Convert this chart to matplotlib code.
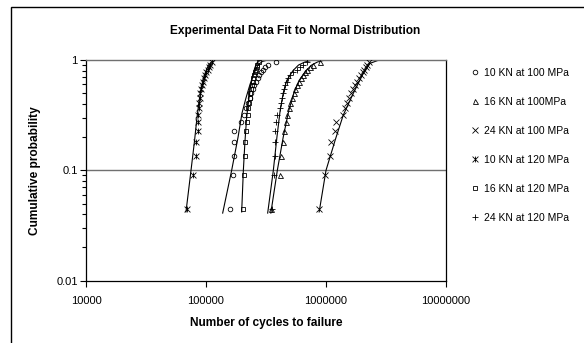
import numpy as np
import matplotlib
matplotlib.use('Agg')
import matplotlib.pyplot as plt
from matplotlib.path import Path
from matplotlib.patches import Rectangle

plt.rcParams['font.family'] = ['Liberation Sans', 'DejaVu Sans']

# Median-rank probability levels (i/22, i=1..21), shared by all series
prob = [0.045, 0.091, 0.136, 0.182, 0.227, 0.273, 0.318, 0.364, 0.409, 0.455, 0.5,
        0.545, 0.591, 0.636, 0.682, 0.727, 0.773, 0.818, 0.864, 0.909, 0.955]

labels = ['10 KN at 100 MPa', '16 KN at 100MPa', '24 KN at 100 MPa',
          '10 KN at 120 MPa', '16 KN at 120 MPa', '24 KN at 120 MPa']

# Cycles to failure for each series
cyc_10_100 = [157800, 169400, 170800, 170800, 172100, 196800, 207500, 215000, 224000, 232700, 239000,
              246500, 253600, 261000, 268800, 276500, 287300, 298500, 310200, 328500, 380000]
cyc_16_100 = [345000, 413600, 424000, 435000, 449000, 464000, 476000, 491700, 504000, 521000, 538000,
              552000, 573000, 596000, 619000, 643000, 668000, 698000, 736000, 780000, 891000]
cyc_24_100 = [877000, 983000, 1071000, 1111000, 1193000, 1219000, 1375000, 1440000, 1497000, 1556000, 1616000,
              1679000, 1745000, 1813000, 1884000, 1958000, 2015000, 2073000, 2134000, 2196000, 2282000]
cyc_10_120 = [69800, 77500, 82000, 83000, 85300, 85300, 86000, 86800, 87800, 88800, 89800,
              90800, 92300, 94000, 95800, 98000, 100500, 103000, 106000, 109000, 112000]
cyc_16_120 = [201800, 206500, 209800, 212600, 216600, 220400, 223000, 226000, 229100, 231700, 234800,
              238000, 241700, 244900, 248700, 252100, 256200, 260200, 263800, 268000, 274000]
cyc_24_120 = [352800, 368600, 373600, 373600, 374000, 381000, 388400, 413600, 421700, 427300, 435500,
              446700, 455000, 470500, 485000, 501000, 531000, 570000, 607000, 647000, 690000]

# Fitted normal curves
fit_10_100_x = [137700, 163600, 185000, 199500, 215000, 232600, 250000, 271000, 295000, 316000, 380000]
fit_10_100_y = [0.041, 0.1, 0.2, 0.33, 0.45, 0.6, 0.75, 0.9, 0.97, 0.99, 1.0]
fit_16_100_x = [347000, 393000, 440000, 490000, 540000, 595000, 680000, 760000, 850000, 950000, 1100000]
fit_16_100_y = [0.041, 0.1, 0.2, 0.35, 0.5, 0.65, 0.8, 0.9, 0.96, 0.99, 1.0]
fit_24_100_x = [877000, 1000000, 1196000, 1393000, 1690000, 2046000, 2326000, 2700000, 4140000]
fit_24_100_y = [0.042, 0.1, 0.19, 0.317, 0.5, 0.757, 0.933, 0.99, 1.0]
fit_10_120_x = [68100, 75000, 80000, 84100, 87500, 90900, 95000, 100000, 105000, 110000, 119000, 150000]
fit_10_120_y = [0.042, 0.1, 0.18, 0.3, 0.42, 0.55, 0.68, 0.8, 0.9, 0.95, 0.99, 1.0]
fit_16_120_x = [198300, 204800, 211000, 218000, 226000, 235000, 245000, 255000, 266000, 280000, 320000]
fit_16_120_y = [0.042, 0.1, 0.18, 0.3, 0.42, 0.57, 0.72, 0.85, 0.94, 0.985, 1.0]
fit_24_120_x = [326600, 364000, 390000, 415000, 440000, 470000, 530000, 590000, 668000, 750000, 850000]
fit_24_120_y = [0.041, 0.1, 0.2, 0.35, 0.5, 0.65, 0.8, 0.9, 0.96, 0.99, 1.0]

# asterisk marker like Excel's star: x with a vertical bar
star = Path([(-1, -1), (1, 1), (-1, 1), (1, -1), (0, -1), (0, 1)],
            [Path.MOVETO, Path.LINETO] * 3)

series = [cyc_10_100, cyc_16_100, cyc_24_100, cyc_10_120, cyc_16_120, cyc_24_120]
markers = ['o', '^', 'x', star, 's', '+']
sizes = [3.3, 3.6, 4.0, 4.2, 3.3, 4.8]
fits = [(fit_10_100_x, fit_10_100_y), (fit_16_100_x, fit_16_100_y), (fit_24_100_x, fit_24_100_y),
        (fit_10_120_x, fit_10_120_y), (fit_16_120_x, fit_16_120_y), (fit_24_120_x, fit_24_120_y)]

fig = plt.figure(figsize=(5.84, 3.43), dpi=100)
ax = fig.add_axes([86/584, 1 - 280.7/343, 360/584, 220.7/343])

# outer chart frame
fig.patches.append(Rectangle((11/584, -0.1), 1.2, 1 - 7/343 + 0.1, transform=fig.transFigure,
                             fill=False, edgecolor='black', linewidth=1.0))

ax.axhline(0.1, color='#707070', linewidth=1.0, zorder=1)

for (fx, fy) in fits:
    ax.plot(fx, fy, color='black', linewidth=0.8, zorder=2)

for cyc, lab, m, s in zip(series, labels, markers, sizes):
    ax.plot(cyc, prob, linestyle='none', marker=m, markersize=s, markerfacecolor='none',
            markeredgecolor='black', markeredgewidth=0.6, color='black', label=lab, zorder=3)

ax.set_xscale('log')
ax.set_yscale('log')
ax.set_xlim(1e4, 1e7)
ax.set_ylim(0.01, 1)
ax.set_xticks([1e4, 1e5, 1e6, 1e7])
ax.set_xticklabels(['10000', '100000', '1000000', '10000000'])
ax.xaxis.set_minor_locator(matplotlib.ticker.NullLocator())
ax.set_yticks([0.01, 0.1, 1])
ax.set_yticklabels(['0.01', '0.1', '1'])
ax.tick_params(axis='both', which='major', direction='out', length=4, width=0.8, labelsize=8, pad=2)
ax.tick_params(axis='y', which='minor', direction='out', length=3, width=0.8)
ax.tick_params(axis='x', pad=7)
ax.yaxis.set_minor_formatter(matplotlib.ticker.NullFormatter())

ax.spines['top'].set_color('#707070')
ax.spines['top'].set_linewidth(1.0)
for sp in ['left', 'bottom', 'right']:
    ax.spines[sp].set_color('black')
    ax.spines[sp].set_linewidth(0.9)

ax.set_xlabel('Number of cycles to failure', fontsize=8.6, fontweight='bold', labelpad=8)
ax.set_ylabel('Cumulative probability', fontsize=8.6, fontweight='bold', labelpad=11)
fig.text(295/584, 1 - 31/343, 'Experimental Data Fit to Normal Distribution',
         fontsize=8.6, fontweight='bold', ha='center', va='center')

ax.legend(loc='upper left', bbox_to_anchor=(470/584, 1 - 68/343), bbox_transform=fig.transFigure,
          frameon=False, fontsize=7.5, labelspacing=1.82, handlelength=0.9, handletextpad=0.45,
          borderaxespad=0, borderpad=0)

fig.savefig('out.png', dpi=100)
